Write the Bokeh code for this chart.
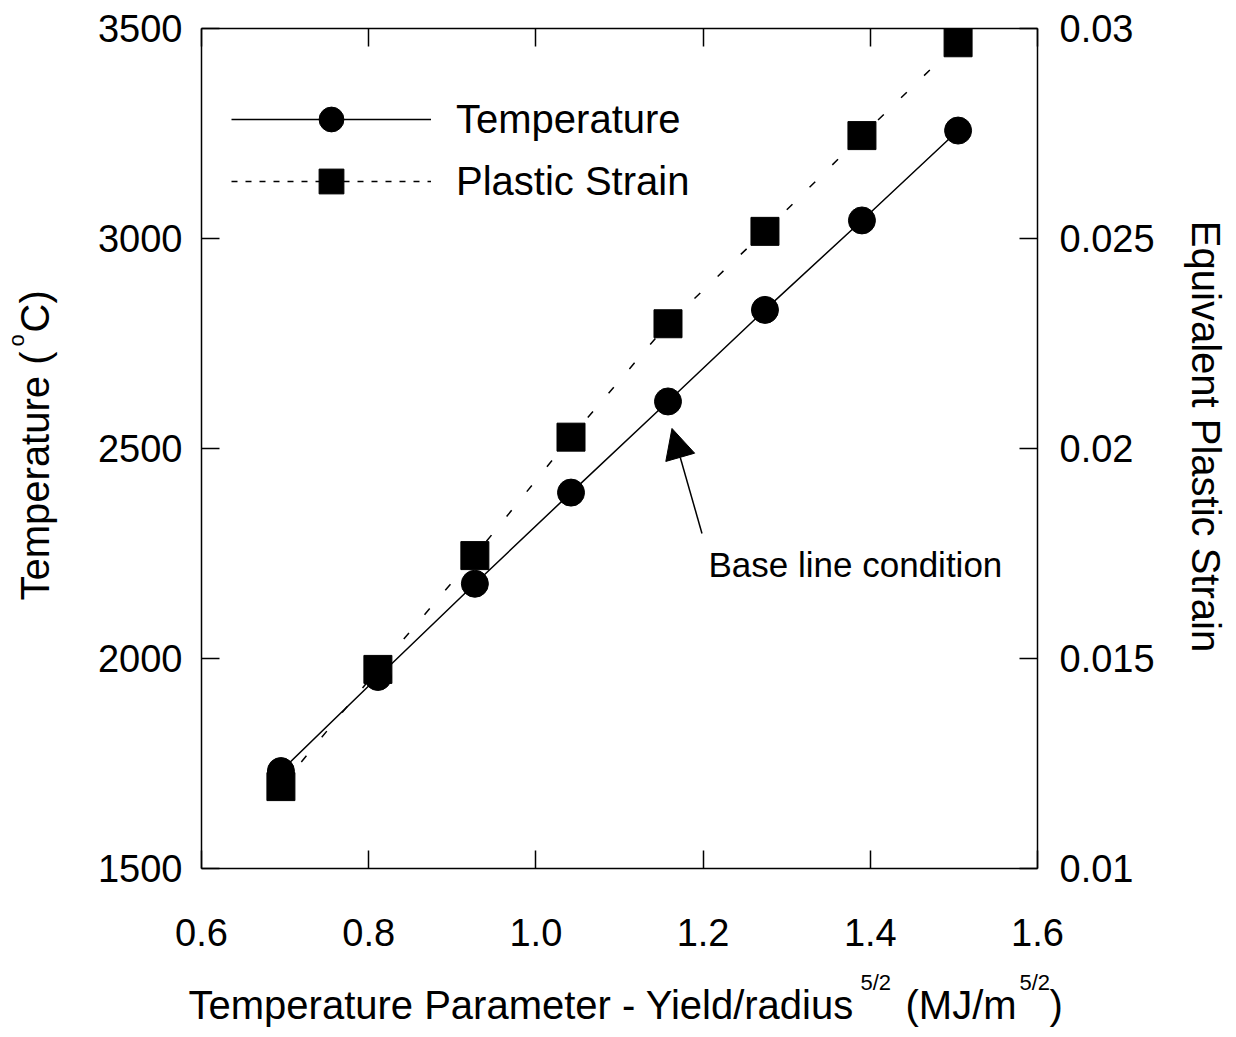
import math
from bokeh.plotting import figure
from bokeh.models import (Range1d, LinearAxis, FixedTicker, Label, Arrow, NormalHead,
                          Legend, LegendItem, CustomJSTickFormatter)
from bokeh.embed import file_html
from bokeh.resources import INLINE

# ---------------- data ----------------
param = [0.695, 0.811, 0.927, 1.042, 1.158, 1.274, 1.390, 1.505]
temperature = [1732, 1956, 2178, 2395, 2612, 2830, 3043, 3257]
plastic_strain = [0.01195, 0.01474, 0.01745, 0.02027, 0.02297, 0.02517, 0.02745, 0.02966]

x_ticks = [0.6, 0.8, 1.0, 1.2, 1.4, 1.6]
x_tick_labels = ["0.6", "0.8", "1.0", "1.2", "1.4", "1.6"]
temp_ticks = [1500, 2000, 2500, 3000, 3500]
temp_tick_labels = ["1500", "2000", "2500", "3000", "3500"]
strain_ticks = [0.01, 0.015, 0.02, 0.025, 0.03]
strain_tick_labels = ["0.01", "0.015", "0.02", "0.025", "0.03"]
baseline_index = 4

FONT = "Liberation Sans"

# ---------------- geometry (canvas pixels) ----------------
W, H = 1230, 1032
FL, FR, FT, FB = 201, 1037, 28, 868   # the axes box

x0, x1 = x_ticks[0], x_ticks[-1]
t0, t1 = temp_ticks[0], temp_ticks[-1]
s0, s1 = strain_ticks[0], strain_ticks[-1]
kx = (x1 - x0) / (FR - FL)
kt = (t1 - t0) / (FB - FT)
ks = (s1 - s0) / (FB - FT)


def px_to_x(px):
    return x0 + (px - FL) * kx


def py_to_t(py):
    return t0 + (FB - py) * kt


p = figure(width=W, height=H,
           x_range=Range1d(x0 - FL * kx, x1 + (W - FR) * kx),
           y_range=Range1d(t0 - (H - FB) * kt, t1 + FT * kt),
           output_backend="svg", toolbar_location=None,
           min_border_left=0, min_border_right=0, min_border_top=0, min_border_bottom=0)
p.extra_y_ranges = {"strain": Range1d(s0 - (H - FB) * ks, s1 + FT * ks)}
p.outline_line_color = None
p.xgrid.grid_line_color = None
p.ygrid.grid_line_color = None
p.background_fill_color = "white"
p.border_fill_color = "white"


def fmt(ticks, labels):
    return CustomJSTickFormatter(args=dict(tv=ticks, tl=labels), code="""
        for (let i = 0; i < tv.length; i++) {
            if (Math.abs(tv[i] - tick) < 1e-9) { return tl[i]; }
        }
        return "";
    """)


def style(ax, ticks, labels, standoff, loc, bounds, show=True):
    ax.fixed_location = loc
    ax.bounds = bounds
    ax.ticker = FixedTicker(ticks=ticks)
    ax.formatter = fmt(ticks, labels if show else [""] * len(labels))
    ax.major_tick_in = 18
    ax.major_tick_out = 0
    ax.minor_tick_in = 0
    ax.minor_tick_out = 0
    ax.axis_line_width = 1.5
    ax.axis_line_color = "black"
    ax.major_tick_line_width = 1.5
    ax.major_tick_line_color = "black"
    ax.major_label_text_font = FONT
    ax.major_label_text_font_size = "38px" if show else "0px"
    ax.major_label_text_color = "black"
    ax.major_label_standoff = standoff
    ax.axis_label = None


style(p.xaxis[0], x_ticks, x_tick_labels, 50, t0, (x0, x1))
style(p.yaxis[0], temp_ticks, temp_tick_labels, 19, x0, (t0, t1))
top_ax = LinearAxis()
style(top_ax, x_ticks, x_tick_labels, 0, t1, (x0, x1), show=False)
p.add_layout(top_ax, "above")
right_ax = LinearAxis(y_range_name="strain")
style(right_ax, strain_ticks, strain_tick_labels, 22, x1, (s0, s1))
p.add_layout(right_ax, "right")

# ---------------- data glyphs ----------------
p.line(param, temperature, line_color="black", line_width=1.5)
p.line(param, plastic_strain, line_color="black", line_width=1.5, line_dash="8 24",
       y_range_name="strain")
p.scatter(param, temperature, marker="circle", size=27, fill_color="black", line_color="black")
p.scatter(param, plastic_strain, marker="square", size=28, fill_color="black", line_color="black",
          y_range_name="strain")

# ---------------- legend (sample glyphs only, never drawn in the plot) ----------------
nan2 = [float("nan")] * 2
lt = p.line(nan2, nan2, line_color="black", line_width=1.5)
mt = p.scatter(nan2, nan2, marker="circle", fill_color="black", line_color="black")
ls = p.line(nan2, nan2, line_color="black", line_width=1.5, line_dash="6 8")
ms = p.scatter(nan2, nan2, marker="square", fill_color="black", line_color="black")
LEG_TOP, ROW = 88, 62
legend = Legend(items=[LegendItem(label="Temperature", renderers=[lt, mt]),
                       LegendItem(label="Plastic Strain", renderers=[ls, ms])],
                location=(231, H - LEG_TOP - 2 * ROW), glyph_width=200, glyph_height=ROW,
                label_height=ROW, spacing=0, padding=0, margin=0, label_standoff=25,
                label_text_font=FONT, label_text_font_size="40px", label_text_color="black",
                border_line_color=None, background_fill_alpha=0)
p.add_layout(legend)

# ---------------- annotation ----------------
bx, bt = param[baseline_index], temperature[baseline_index]
p.add_layout(Arrow(x_start=bx + 34 * kx, y_start=bt - 132 * kt,
                   x_end=bx + 4 * kx, y_end=bt - 27 * kt,
                   line_color="black", line_width=1.5,
                   end=NormalHead(size=30, fill_color="black", line_color="black", line_width=1)))


def lab(px, py, text, size, angle=0.0, align="left"):
    # (px, py): wanted baseline anchor in canvas pixels; the renderer sets text
    # about 0.4 em lower than its alphabetic anchor, so compensate along "up".
    sh = 0.4 * size
    ax_ = px - sh * math.sin(angle)
    ay_ = py - sh * math.cos(angle)
    p.add_layout(Label(x=px_to_x(ax_), y=py_to_t(ay_), text=text, angle=angle,
                       text_font=FONT, text_font_size=f"{size}px", text_color="black",
                       text_align=align, text_baseline="alphabetic"))


lab(708, 578, "Base line condition", 35)

# ---------------- axis titles (with superscripts) ----------------
lab(188, 1020, "Temperature Parameter - Yield/radius", 40)
lab(860, 991, "5/2", 22)
lab(905, 1020, "(MJ/m", 40)
lab(1019, 991, "5/2", 22)
lab(1049, 1020, ")", 40)

lab(50, 600, "Temperature (", 40, angle=math.pi / 2)
lab(25, 346, "o", 22, angle=math.pi / 2)
lab(50, 332, "C)", 40, angle=math.pi / 2)

lab(1189, 436, "Equivalent Plastic Strain", 40, angle=-math.pi / 2, align="center")

open("out.html", "w").write(file_html(p, INLINE))
